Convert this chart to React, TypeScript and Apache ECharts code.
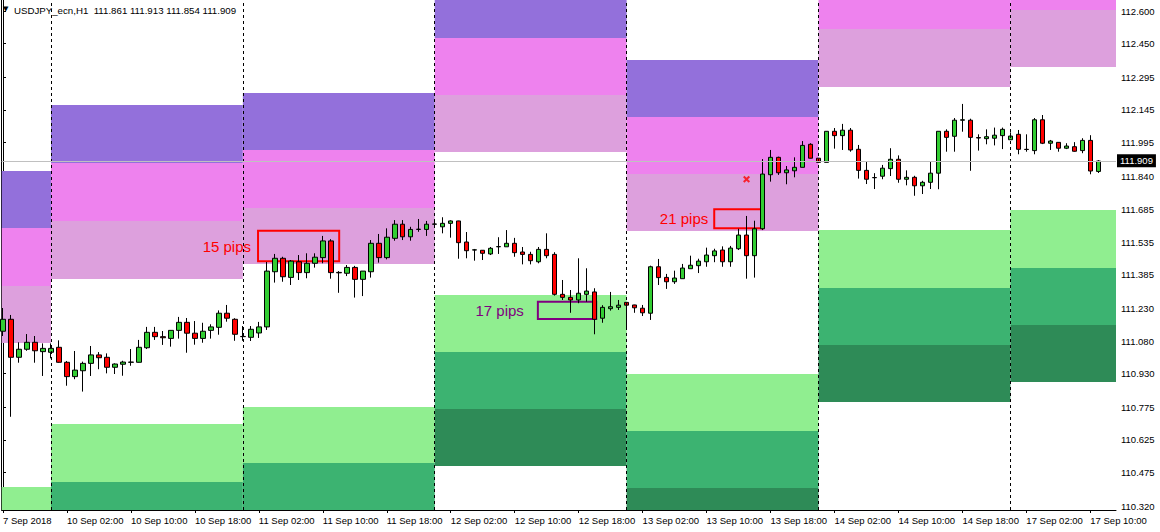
import React, { useEffect, useRef } from "react";
import * as echarts from "echarts";

const instrument = "USDJPY_ecn,H1";

const tickLabels = [
  "7 Sep 2018", "10 Sep 02:00", "10 Sep 10:00", "10 Sep 18:00", "11 Sep 02:00", "11 Sep 10:00",
  "11 Sep 18:00", "12 Sep 02:00", "12 Sep 10:00", "12 Sep 18:00", "13 Sep 02:00", "13 Sep 10:00",
  "13 Sep 18:00", "14 Sep 02:00", "14 Sep 10:00", "14 Sep 18:00", "17 Sep 02:00", "17 Sep 10:00",
];
const barsPerTick = 8;
const daySeparators = [6, 30, 54, 78, 102, 126];

const yTickValues = [
  110.32, 110.475, 110.625, 110.775, 110.93, 111.08, 111.23, 111.385,
  111.535, 111.685, 111.84, 111.995, 112.145, 112.295, 112.45, 112.6,
];

const opens = [
  111.125, 111.18, 111.005, 111.042, 111.074, 111.031, 111.028, 111.051, 110.982, 110.916,
  110.943, 110.977, 111.016, 111.005, 110.959, 110.973, 110.982, 110.982, 111.049, 111.12,
  111.1, 111.092, 111.129, 111.166, 111.116, 111.092, 111.129, 111.143, 111.208, 111.18,
  111.101, 111.097, 111.117, 111.145, 111.399, 111.461, 111.373, 111.445, 111.395, 111.438,
  111.464, 111.541, 111.396, 111.392, 111.419, 111.364, 111.399, 111.53, 111.464, 111.553,
  111.618, 111.56, 111.594, 111.594, 111.618, 111.606, 111.622, 111.633, 111.536, 111.499,
  111.498, 111.481, 111.514, 111.514, 111.53, 111.49, 111.479, 111.445, 111.502, 111.479,
  111.295, 111.281, 111.269, 111.295, 111.306, 111.185, 111.229, 111.235, 111.258, 111.246,
  111.231, 111.208, 111.422, 111.373, 111.353, 111.367, 111.413, 111.427, 111.445, 111.473,
  111.499, 111.445, 111.505, 111.568, 111.473, 111.597, 111.846, 111.926, 111.855, 111.864,
  111.88, 111.986, 111.922, 111.903, 112.046, 112.026, 112.051, 111.963, 111.866, 111.833,
  111.839, 111.874, 111.917, 111.825, 111.834, 111.795, 111.811, 111.853, 112.046, 112.023,
  112.097, 112.097, 112.017, 112.012, 112.014, 112.026, 112.007, 112.032, 111.963, 111.957,
  112.099, 111.991, 111.995, 111.968, 111.975, 111.957, 112.004, 111.861,
];
const highs = [
  111.232, 111.2, 111.074, 111.112, 111.103, 111.069, 111.069, 111.083, 110.988, 111.034,
  110.985, 111.057, 111.029, 111.023, 110.977, 110.989, 111.043, 111.085, 111.145, 111.145,
  111.126, 111.129, 111.191, 111.186, 111.172, 111.164, 111.157, 111.221, 111.246, 111.185,
  111.149, 111.149, 111.168, 111.444, 111.481, 111.468, 111.453, 111.476, 111.484, 111.484,
  111.564, 111.549, 111.402, 111.43, 111.426, 111.402, 111.545, 111.573, 111.599, 111.637,
  111.637, 111.606, 111.642, 111.633, 111.633, 111.65, 111.636, 111.634, 111.582, 111.504,
  111.499, 111.513, 111.558, 111.591, 111.555, 111.513, 111.491, 111.513, 111.576, 111.489,
  111.361, 111.315, 111.461, 111.415, 111.323, 111.245, 111.306, 111.269, 111.259, 111.247,
  111.246, 111.427, 111.458, 111.389, 111.404, 111.435, 111.473, 111.459, 111.51, 111.505,
  111.516, 111.518, 111.597, 111.656, 111.634, 111.918, 111.96, 111.929, 111.886, 111.926,
  112.001, 111.991, 111.923, 112.047, 112.061, 112.08, 112.061, 111.983, 111.908, 111.853,
  111.891, 111.968, 111.935, 111.866, 111.841, 111.818, 111.909, 112.046, 112.055, 112.107,
  112.172, 112.104, 112.032, 112.055, 112.063, 112.063, 112.041, 112.052, 112.032, 112.107,
  112.121, 112.006, 111.996, 111.991, 111.996, 112.014, 112.028, 111.913,
];
const lows = [
  111.103, 110.731, 110.98, 111.035, 110.98, 110.919, 111.0, 110.98, 110.874, 110.904,
  110.847, 110.919, 110.95, 110.931, 110.928, 110.92, 110.966, 110.981, 111.043, 111.085,
  111.062, 111.054, 111.091, 111.026, 111.063, 111.072, 111.091, 111.109, 111.169, 111.081,
  111.081, 111.08, 111.094, 111.131, 111.349, 111.353, 111.338, 111.361, 111.369, 111.418,
  111.438, 111.367, 111.302, 111.379, 111.28, 111.287, 111.372, 111.441, 111.456, 111.542,
  111.545, 111.542, 111.583, 111.564, 111.606, 111.576, 111.556, 111.459, 111.461, 111.45,
  111.453, 111.476, 111.481, 111.514, 111.468, 111.433, 111.433, 111.438, 111.461, 111.289,
  111.269, 111.21, 111.254, 111.261, 111.111, 111.164, 111.22, 111.223, 111.139, 111.21,
  111.195, 111.177, 111.338, 111.32, 111.343, 111.367, 111.413, 111.393, 111.422, 111.443,
  111.422, 111.422, 111.499, 111.367, 111.372, 111.591, 111.814, 111.845, 111.802, 111.834,
  111.88, 111.921, 111.902, 111.903, 111.966, 111.96, 111.952, 111.828, 111.803, 111.78,
  111.825, 111.84, 111.809, 111.797, 111.749, 111.757, 111.78, 111.779, 111.952, 111.952,
  112.044, 111.864, 111.957, 111.986, 111.981, 111.964, 112.006, 111.94, 111.952, 111.94,
  111.987, 111.96, 111.952, 111.964, 111.952, 111.945, 111.848, 111.854,
];
const closes = [
  111.18, 111.005, 111.042, 111.074, 111.035, 111.046, 111.046, 110.982, 110.916, 110.946,
  110.977, 111.016, 111.003, 110.959, 110.974, 110.983, 110.983, 111.051, 111.12, 111.1,
  111.095, 111.129, 111.166, 111.116, 111.092, 111.125, 111.145, 111.208, 111.185, 111.111,
  111.1, 111.134, 111.145, 111.402, 111.461, 111.376, 111.448, 111.395, 111.438, 111.466,
  111.541, 111.395, 111.394, 111.419, 111.364, 111.402, 111.53, 111.464, 111.558, 111.618,
  111.56, 111.594, 111.595, 111.618, 111.619, 111.622, 111.633, 111.533, 111.496, 111.5,
  111.484, 111.507, 111.515, 111.53, 111.487, 111.479, 111.45, 111.502, 111.473, 111.295,
  111.281, 111.269, 111.3, 111.31, 111.18, 111.235, 111.238, 111.245, 111.245, 111.233,
  111.21, 111.422, 111.372, 111.353, 111.37, 111.416, 111.429, 111.448, 111.476, 111.495,
  111.445, 111.508, 111.568, 111.473, 111.597, 111.849, 111.926, 111.855, 111.868, 111.88,
  111.981, 111.922, 111.903, 112.046, 112.026, 112.051, 111.96, 111.866, 111.825, 111.832,
  111.876, 111.917, 111.825, 111.834, 111.795, 111.811, 111.853, 112.046, 112.018, 112.097,
  112.099, 112.018, 112.015, 112.021, 112.028, 112.055, 112.024, 111.963, 111.962, 112.099,
  111.991, 112.001, 111.968, 111.978, 111.954, 112.004, 111.863, 111.909,
];

// Daily zones: [top of 1st band, 2nd, 3rd, bottom of 3rd]
const zoneUpper = [
  [111.863, 111.6, 111.333, 111.071],
  [112.167, 111.9, 111.633, 111.366],
  [112.222, 111.96, 111.693, 111.435],
  [112.738, 112.476, 112.213, 111.951],
  [112.374, 112.112, 111.849, 111.587],
  [113.04, 112.78, 112.517, 112.25],
  [113.13, 112.867, 112.605, 112.342],
];
const zoneLower = [
  [110.407, 110.14, 109.88, 109.62],
  [110.698, 110.431, 110.164, 109.9],
  [110.776, 110.518, 110.25, 109.99],
  [111.292, 111.029, 110.767, 110.504],
  [110.928, 110.665, 110.403, 110.14],
  [111.591, 111.324, 111.062, 110.799],
  [111.683, 111.416, 111.154, 110.891],
];
const upperColors = ["#9370DB", "#EE82EE", "#DDA0DD"];
const lowerColors = ["#90EE90", "#3CB371", "#2E8B57"];

const pipBoxes = [
  { text: "15 pips", from: 31.9, to: 42.05, high: 111.588, low: 111.447 },
  { text: "17 pips", from: 66.9, to: 74.2, high: 111.261, low: 111.181 },
  { text: "21 pips", from: 88.96, to: 95.05, high: 111.687, low: 111.599 },
];
const pipColors = ["#FF0000", "#800080", "#FF0000"];
const pipDistances = [6, 13, 5];
const crossMark = [93, 111.825];

export default function App() {
  const ref = useRef<HTMLDivElement>(null);
  useEffect(() => {
    document.body.style.margin = "0";
    const chart = echarts.init(ref.current!, null, { renderer: "svg" });
    const X_MIN = -0.1625;
    const X_MAX = 139.2125;
    const Y_MIN = 110.3016;
    const Y_MAX = 112.6507;
    const font = "'Liberation Sans', Arial, sans-serif";
    const fs = 9.5;

    const candleData = opens.map((o, i) => [i, o, closes[i], lows[i], highs[i]]);
    const edges = [X_MIN, ...daySeparators, X_MAX];
    const zoneAreas: any[] = [];
    for (let d = 0; d < edges.length - 1; d++) {
      const x0 = edges[d];
      const x1 = edges[d + 1];
      const add = (top: number, bottom: number, color: string) => {
        const t = Math.min(top, Y_MAX);
        const b = Math.max(bottom, Y_MIN);
        if (t <= b) return;
        zoneAreas.push([
          { xAxis: x0, yAxis: t, itemStyle: { color, opacity: 1 } },
          { xAxis: x1, yAxis: b },
        ]);
      };
      for (let k = 0; k < 3; k++) add(zoneUpper[d][k], zoneUpper[d][k + 1], upperColors[k]);
      for (let k = 0; k < 3; k++) add(zoneLower[d][k], zoneLower[d][k + 1], lowerColors[k]);
    }

    const boxAreas = pipBoxes.map((b, i) => [
      {
        name: b.text,
        xAxis: b.from,
        yAxis: b.high,
        itemStyle: { color: "rgba(0,0,0,0)", borderColor: pipColors[i], borderWidth: 2 },
        label: {
          show: true,
          position: "left",
          distance: pipDistances[i],
          formatter: b.text,
          color: pipColors[i],
          fontSize: 15,
          fontFamily: font,
        },
      },
      { xAxis: b.to, yAxis: b.low },
    ]);

    const last = opens.length - 1;
    const fmt = (v: number) => v.toFixed(3);
    const tickIdx = tickLabels.map((_, k) => k * barsPerTick);

    chart.setOption({
      animation: false,
      backgroundColor: "#fff",
      grid: { left: 1, right: 44, top: 0, bottom: 22 },
      xAxis: {
        type: "value",
        min: X_MIN,
        max: X_MAX,
        axisLine: { show: true, lineStyle: { color: "#000", width: 1 } },
        axisTick: { show: true, customValues: tickIdx, length: 3, lineStyle: { color: "#000" } },
        axisLabel: {
          customValues: tickIdx,
          formatter: (v: number) => tickLabels[Math.round(v / barsPerTick)] ?? "",
          align: "left",
          margin: 5,
          color: "#000",
          fontSize: fs,
          fontFamily: font,
        },
        splitLine: { show: false },
      },
      yAxis: [
        {
          type: "value",
          position: "right",
          min: Y_MIN,
          max: Y_MAX,
          axisLine: { show: true, lineStyle: { color: "#000", width: 1 } },
          axisTick: { show: true, customValues: yTickValues, length: 3, lineStyle: { color: "#000" } },
          axisLabel: {
            customValues: yTickValues,
            formatter: (v: number) => fmt(v),
            margin: 5,
            color: "#000",
            fontSize: fs,
            fontFamily: font,
          },
          splitLine: { show: false },
        },
        {
          type: "value",
          position: "left",
          min: Y_MIN,
          max: Y_MAX,
          axisLine: { show: true, onZero: false, lineStyle: { color: "#000", width: 1 } },
          axisTick: { show: false },
          axisLabel: { show: false },
          splitLine: { show: false },
        },
      ],
      graphic: [
        { type: "text", left: 3, top: 5, style: { text: "▼", fill: "#000", fontSize: 7, fontFamily: "DejaVu Sans" } },
        {
          type: "text",
          left: 14,
          top: 5,
          style: {
            text: `${instrument}  ${fmt(opens[last])} ${fmt(highs[last])} ${fmt(lows[last])} ${fmt(closes[last])}`,
            fill: "#000",
            fontSize: 9.7,
            fontFamily: font,
          },
        },
      ],
      series: [
        {
          name: "zones",
          type: "line",
          data: [],
          z: 1,
          markArea: { silent: true, label: { show: false }, data: zoneAreas },
        },
        {
          name: "separators",
          type: "line",
          data: [],
          z: 2,
          markLine: {
            silent: true,
            symbol: "none",
            label: { show: false },
            lineStyle: { color: "#000", width: 1, type: [3, 3] },
            data: daySeparators.map((x) => ({ xAxis: x })),
          },
        },
        {
          name: instrument,
          type: "candlestick",
          z: 3,
          barWidth: 5,
          dimensions: ["idx", "open", "close", "lowest", "highest"],
          encode: { x: 0, y: [1, 2, 3, 4] },
          data: candleData,
          itemStyle: {
            color: "#32CD32",
            color0: "#FF0000",
            borderColor: "#000",
            borderColor0: "#000",
            borderWidth: 1,
          },
          markLine: {
            silent: true,
            symbol: "none",
            lineStyle: { color: "#C0C0C0", width: 1, type: "solid" },
            label: {
              show: true,
              position: "end",
              distance: 1,
              formatter: fmt(closes[last]),
              color: "#fff",
              backgroundColor: "#000",
              padding: [2, 3, 1, 3],
              fontSize: fs,
              fontFamily: font,
            },
            data: [{ yAxis: closes[last] }],
          },
        },
        {
          name: "boxes",
          type: "line",
          data: [],
          z: 4,
          markArea: { silent: true, data: boxAreas },
        },
        {
          name: "cross",
          type: "scatter",
          z: 5,
          symbol: "path://M0,2L2,0L5,3L8,0L10,2L7,5L10,8L8,10L5,7L2,10L0,8L3,5Z",
          symbolSize: 7,
          itemStyle: { color: "#FF0000" },
          data: [crossMark],
        },
      ],
    });
    return () => chart.dispose();
  }, []);
  return <div ref={ref} style={{ width: 1160, height: 532 }} />;
}
